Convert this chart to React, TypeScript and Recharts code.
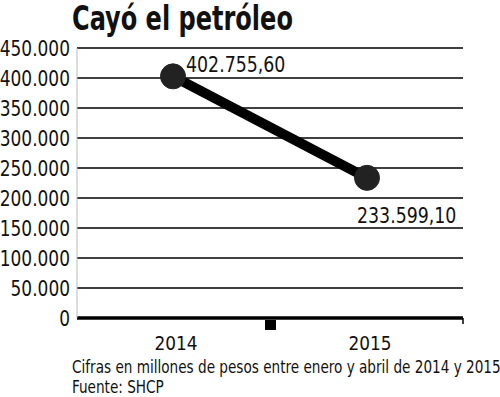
import React from 'react';
import { LineChart, Line, XAxis, YAxis, CartesianGrid, LabelList, usePlotArea } from 'recharts';

const categories = ['2014', '2015'];
const values = [402755.6, 233599.1];
const valueLabels = ['402.755,60', '233.599,10'];
const yTicks = [0, 50000, 100000, 150000, 200000, 250000, 300000, 350000, 400000, 450000];
const title = 'Cayó el petróleo';
const note = 'Cifras en millones de pesos entre enero y abril de 2014 y 2015';
const source = 'Fuente: SHCP';

const data = categories.map((c, i) => ({ year: c, value: values[i], label: valueLabels[i] }));

const FONT = '"DejaVu Sans Condensed", "DejaVu Sans", sans-serif';
const SX = 0.9;

const fmt = (v: number) => String(v).replace(/\B(?=(\d{3})+(?!\d))/g, '.');

const MidTick = () => {
  const plot = usePlotArea ? usePlotArea() : null;
  if (!plot) return null;
  const cx = plot.x + plot.width / 2;
  const by = plot.y + plot.height;
  return (
    <g>
      <rect x={cx - 5} y={by + 2} width={11} height={10} fill="#000" />
      <line x1={plot.x + plot.width} x2={plot.x + plot.width} y1={by} y2={by + 6} stroke="#000" strokeWidth={1.5} />
    </g>
  );
};

const YTick = (props: any) => {
  const { x, y, payload } = props;
  return (
    <g transform={`translate(${x},${y}) scale(${SX},1)`}>
      <text x={0} y={0} dy="0.36em" textAnchor="end" fontFamily={FONT} fontSize={21} fill="#111">
        {fmt(payload.value)}
      </text>
    </g>
  );
};

const XTick = (props: any) => {
  const { x, y, payload } = props;
  return (
    <g transform={`translate(${x + 3},${y}) scale(${SX + 0.04},1)`}>
      <text x={0} y={0} dy="0.88em" textAnchor="middle" fontFamily={FONT} fontSize={20} fill="#111">
        {payload.value}
      </text>
    </g>
  );
};

const renderLabel = (props: any) => {
  const { x, y, index, value } = props;
  const tx = index === 0 ? x + 13 : x - 10;
  const ty = index === 0 ? y - 4 : y + 45;
  return (
    <g transform={`translate(${tx},${ty}) scale(${SX + 0.02},1)`}>
      <text x={0} y={0} fontFamily={FONT} fontSize={21} fill="#111">{value}</text>
    </g>
  );
};

export default function App() {
  return (
    <div style={{ position: 'absolute', left: 0, top: 0, width: 500, height: 397, background: '#fff' }}>
      <LineChart width={500} height={397} data={data} margin={{ top: 48, right: 37, bottom: 0, left: 0 }}>
        <CartesianGrid horizontal vertical={false} stroke="#000" strokeWidth={1.5} />
        <XAxis
          dataKey="year"
          axisLine={{ stroke: '#000', strokeWidth: 3.5 }}
          tickLine={false}
          padding={{ left: 96, right: 96 }}
          height={79}
          tickMargin={8}
          tick={<XTick />}
        />
        <YAxis
          domain={[0, 450000]}
          ticks={yTicks}
          width={77}
          axisLine={{ stroke: '#bbb', strokeWidth: 1 }}
          tickLine={false}
          tickSize={0}
          tickMargin={7}
          tick={<YTick />}
          interval={0}
        />
        <Line
          dataKey="value"
          stroke="#000"
          strokeWidth={10}
          isAnimationActive={false}
          dot={{ r: 12.5, fill: '#222', stroke: '#222', strokeWidth: 1 }}
          activeDot={false}
        >
          <LabelList dataKey="label" content={renderLabel} />
        </Line>
        <MidTick />
      </LineChart>
      <svg width={500} height={397} style={{ position: 'absolute', left: 0, top: 0, pointerEvents: 'none' }}>
        <g transform="translate(72,30) scale(0.81,1)">
          <text x={0} y={0} fontFamily={FONT} fontWeight="bold" fontSize={33} fill="#111">{title}</text>
        </g>
        <g transform="translate(72,373) scale(0.89,1)">
          <text x={0} y={0} fontFamily={FONT} fontSize={17} fill="#111">{note}</text>
        </g>
        <g transform="translate(72,393) scale(0.89,1)">
          <text x={0} y={0} fontFamily={FONT} fontSize={17} fill="#111">{source}</text>
        </g>
      </svg>
    </div>
  );
}
